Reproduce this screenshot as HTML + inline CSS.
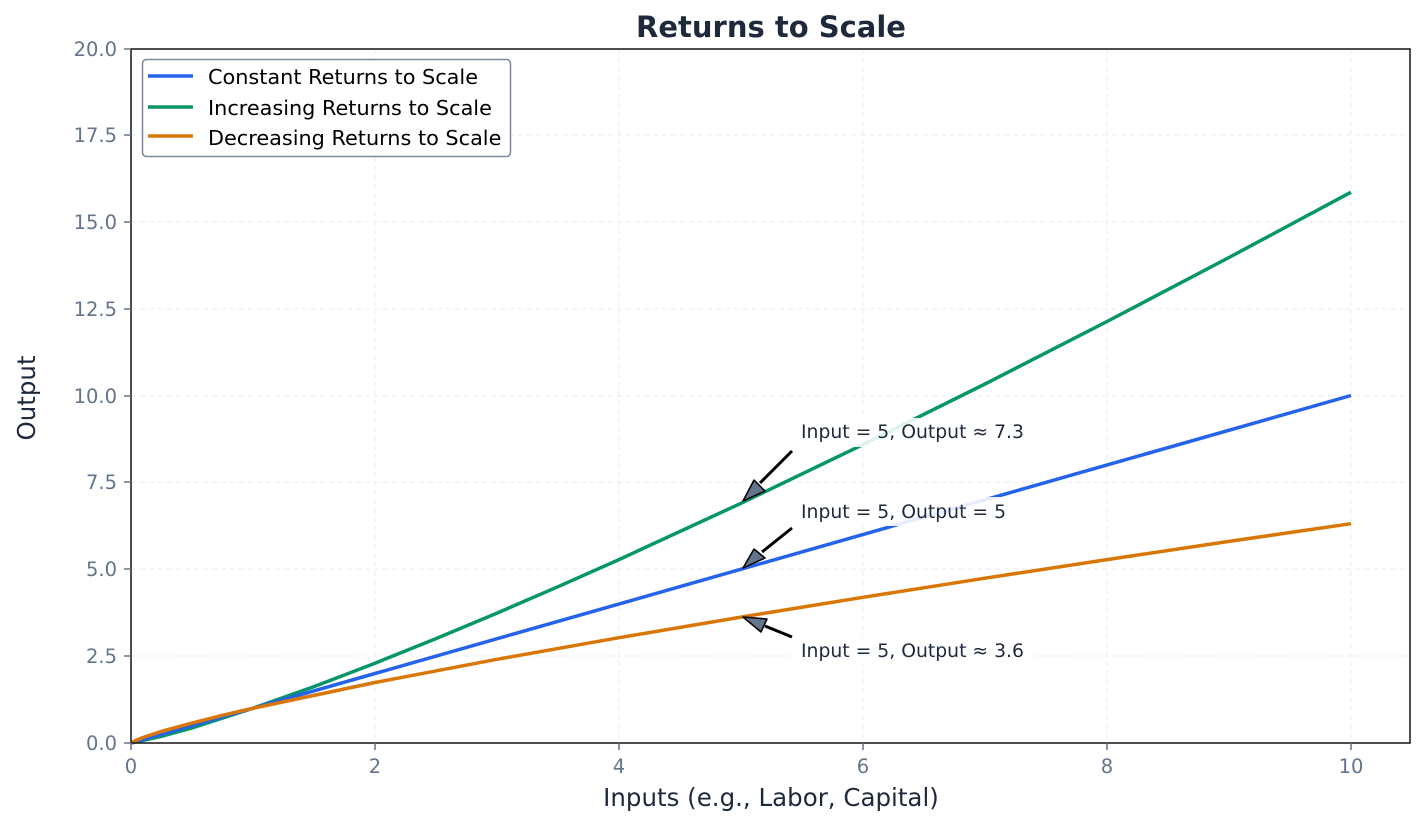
<!DOCTYPE html>
<html><head><meta charset="utf-8"><style>
html,body{margin:0;padding:0;background:#fff;}
svg{display:block;font-family:"DejaVu Sans","Liberation Sans",sans-serif;}
</style></head><body>
<svg width="1425" height="825" viewBox="0 0 1425 825" xmlns="http://www.w3.org/2000/svg">
<rect width="1425" height="825" fill="#fff"/>
<g stroke="#e8edf3" stroke-width="1" stroke-dasharray="5,4">
<line x1="375" y1="49" x2="375" y2="743"/><line x1="619" y1="49" x2="619" y2="743"/>
<line x1="863" y1="49" x2="863" y2="743"/><line x1="1107" y1="49" x2="1107" y2="743"/>
<line x1="1351" y1="49" x2="1351" y2="743"/>
<line x1="131" y1="656" x2="1410" y2="656"/><line x1="131" y1="569" x2="1410" y2="569"/>
<line x1="131" y1="482" x2="1410" y2="482"/><line x1="131" y1="396" x2="1410" y2="396"/>
<line x1="131" y1="309" x2="1410" y2="309"/><line x1="131" y1="222" x2="1410" y2="222"/>
<line x1="131" y1="135" x2="1410" y2="135"/>
</g>
<g fill="none" stroke-width="3.5" stroke-linejoin="round">
<polyline stroke="#069669" points="131,743 161,736.4 192,727.9 253,708.25 314,686.6 375,663.2 436,638.6 497,613.1 558,586.7 619,559.6 741,503.3 863,444.6 985,384 1107,321.5 1229,257.5 1351,192.2"/>
<polyline stroke="#2563eb" points="131,743 1351,395.5"/>
<polyline stroke="#d97706" points="131,743 137,740 143,737.5 161,731.5 192,723.1 222,715.4 253,708.25 375,682.5 497,659.3 619,637.7 741,617.1 863,597.3 985,578.2 1107,559.6 1229,541.4 1351,523.7"/>
</g>
<g fill="#fff" fill-opacity="0.88">
<rect x="797" y="418" width="232" height="29"/>
<rect x="797" y="497" width="212" height="29"/>
<rect x="797" y="636" width="232" height="29"/>
</g>
<g font-size="18.8" fill="#1e293b">
<text x="801" y="438">Input = 5, Output ≈ 7.3</text>
<text x="801" y="518">Input = 5, Output = 5</text>
<text x="801" y="657">Input = 5, Output ≈ 3.6</text>
</g>
<g stroke="#000" stroke-width="3"><line x1="792" y1="451" x2="760" y2="483"/><line x1="792" y1="528" x2="762" y2="552"/><line x1="792" y1="637" x2="765" y2="626"/></g>
<g fill="#64748b" stroke="#000" stroke-width="1.5" stroke-linejoin="round">
<polygon points="743,501 754,480 765,491"/>
<polygon points="743,568 754,549 765,558"/>
<polygon points="743,617 767,619 761,632"/>
</g>
<rect x="131" y="49" width="1279" height="694" fill="none" stroke="#222" stroke-width="1.6"/>
<g stroke="#64748b" stroke-width="1.5">
<line x1="131" y1="743" x2="131" y2="750"/><line x1="375" y1="743" x2="375" y2="750"/><line x1="619" y1="743" x2="619" y2="750"/><line x1="863" y1="743" x2="863" y2="750"/><line x1="1107" y1="743" x2="1107" y2="750"/><line x1="1351" y1="743" x2="1351" y2="750"/>
<line x1="124" y1="743" x2="131" y2="743"/><line x1="124" y1="656" x2="131" y2="656"/><line x1="124" y1="569" x2="131" y2="569"/><line x1="124" y1="482" x2="131" y2="482"/><line x1="124" y1="396" x2="131" y2="396"/><line x1="124" y1="309" x2="131" y2="309"/><line x1="124" y1="222" x2="131" y2="222"/><line x1="124" y1="135" x2="131" y2="135"/><line x1="124" y1="49" x2="131" y2="49"/>
</g>
<g font-size="19.5" fill="#64748b" text-anchor="middle">
<text x="131" y="773">0</text><text x="375" y="773">2</text><text x="619" y="773">4</text><text x="863" y="773">6</text><text x="1107" y="773">8</text><text x="1351" y="773">10</text>
</g>
<g font-size="19.5" fill="#64748b" text-anchor="end">
<text x="117" y="750">0.0</text><text x="117" y="663">2.5</text><text x="117" y="576">5.0</text><text x="117" y="489">7.5</text><text x="117" y="403">10.0</text><text x="117" y="316">12.5</text><text x="117" y="229">15.0</text><text x="117" y="142">17.5</text><text x="117" y="56">20.0</text>
</g>
<text x="771" y="806" font-size="24.5" fill="#1e293b" text-anchor="middle">Inputs (e.g., Labor, Capital)</text>
<text transform="translate(35,398) rotate(-90)" font-size="24.5" fill="#1e293b" text-anchor="middle">Output</text>
<text x="771" y="37" font-size="29" font-weight="bold" fill="#1e293b" text-anchor="middle">Returns to Scale</text>
<rect x="142.5" y="59.5" width="368" height="97" rx="4" fill="#fff" fill-opacity="0.9" stroke="#7c8799" stroke-width="1.5"/>
<g stroke-width="3.5"><line x1="148" y1="76" x2="193" y2="76" stroke="#2563eb"/><line x1="148" y1="107" x2="193" y2="107" stroke="#069669"/><line x1="148" y1="136" x2="193" y2="136" stroke="#d97706"/></g>
<g font-size="20.8" fill="#000"><text x="208" y="84">Constant Returns to Scale</text><text x="208" y="115">Increasing Returns to Scale</text><text x="208" y="145">Decreasing Returns to Scale</text></g>
</svg>
</body></html>
